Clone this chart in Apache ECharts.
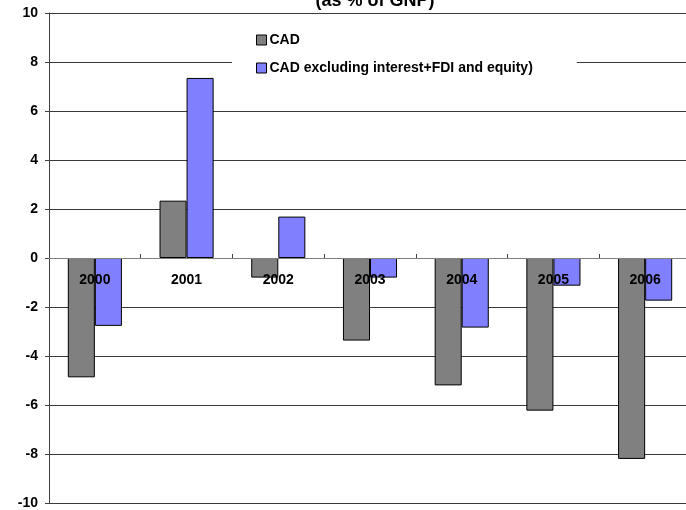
<!DOCTYPE html>
<html>
<head>
<meta charset="utf-8">
<script src="https://cdn.jsdelivr.net/npm/echarts@6/dist/echarts.min.js"></script>
<style>
  html, body { margin: 0; padding: 0; background: #fff; }
  #chart { width: 686px; height: 510px; }
</style>
</head>
<body>
<div id="chart"></div>
<script>
// categories and values
const years = ['2000', '2001', '2002', '2003', '2004', '2005', '2006']
const cad = [-4.87, 2.34, -0.8, -3.37, -5.2, -6.23, -8.2]
const cadExcl = [-2.77, 7.35, 1.69, -0.8, -2.84, -1.13, -1.74]
const seriesNames = ['CAD', 'CAD excluding interest+FDI and equity)']
const titleText = '(as % of GNP)'

const font = 'Arial, "Liberation Sans", sans-serif'

const chart = echarts.init(document.getElementById('chart'))

// grid geometry (px) - zero line sits inside the plot
const gridTop = 13
const gridBottom = 7
const plotH = 510 - gridTop - gridBottom
const zeroOffset = -plotH / 2

const option = {
  animation: false,
  backgroundColor: '#fff',
  graphic: [
    {
      type: 'text',
      z: 10,
      x: 375,
      y: 10,
      style: {
        text: titleText,
        align: 'center',
        verticalAlign: 'bottom',
        font: 'bold 18px ' + font,
        fill: '#000'
      }
    }
  ],
  legend: {
    data: seriesNames,
    orient: 'vertical',
    left: 232,
    top: 26,
    padding: [6, 44, 8, 24],
    backgroundColor: '#fff',
    itemWidth: 10,
    itemHeight: 10,
    itemGap: 12,
    icon: 'rect',
    itemStyle: { borderColor: '#000', borderWidth: 1 },
    textStyle: {
      fontFamily: font,
      fontWeight: 'bold',
      fontSize: 14,
      color: '#000',
      lineHeight: 16,
      padding: [0, 0, 0, -2]
    }
  },
  grid: {
    left: 49,
    right: -5,
    top: gridTop,
    bottom: gridBottom,
    containLabel: false,
    outerBoundsMode: 'none'
  },
  xAxis: {
    type: 'category',
    data: years,
    z: 5,
    offset: zeroOffset,
    axisLine: { onZero: false, lineStyle: { color: '#808080', width: 1 } },
    axisTick: { show: true, inside: true, length: 4, lineStyle: { color: '#404040' } },
    axisLabel: {
      fontFamily: font,
      fontWeight: 'bold',
      fontSize: 14,
      color: '#000',
      margin: 15
    },
    splitLine: { show: false }
  },
  yAxis: {
    type: 'value',
    min: -10,
    max: 10,
    interval: 2,
    axisLine: { show: true, lineStyle: { color: '#404040', width: 1 } },
    axisTick: { show: true, length: 4, lineStyle: { color: '#404040' } },
    axisLabel: {
      fontFamily: font,
      fontWeight: 'bold',
      fontSize: 14,
      color: '#000',
      margin: 11
    },
    splitLine: { show: true, lineStyle: { color: '#3a3a3a', width: 1 } }
  },
  series: [
    {
      name: seriesNames[0],
      type: 'bar',
      data: cad,
      barGap: '0%',
      barCategoryGap: '41%',
      itemStyle: { color: '#808080', borderColor: '#000', borderWidth: 1 }
    },
    {
      name: seriesNames[1],
      type: 'bar',
      data: cadExcl,
      barGap: '0%',
      barCategoryGap: '41%',
      itemStyle: { color: '#8080ff', borderColor: '#000', borderWidth: 1 }
    }
  ]
}

chart.setOption(option)
</script>
</body>
</html>
